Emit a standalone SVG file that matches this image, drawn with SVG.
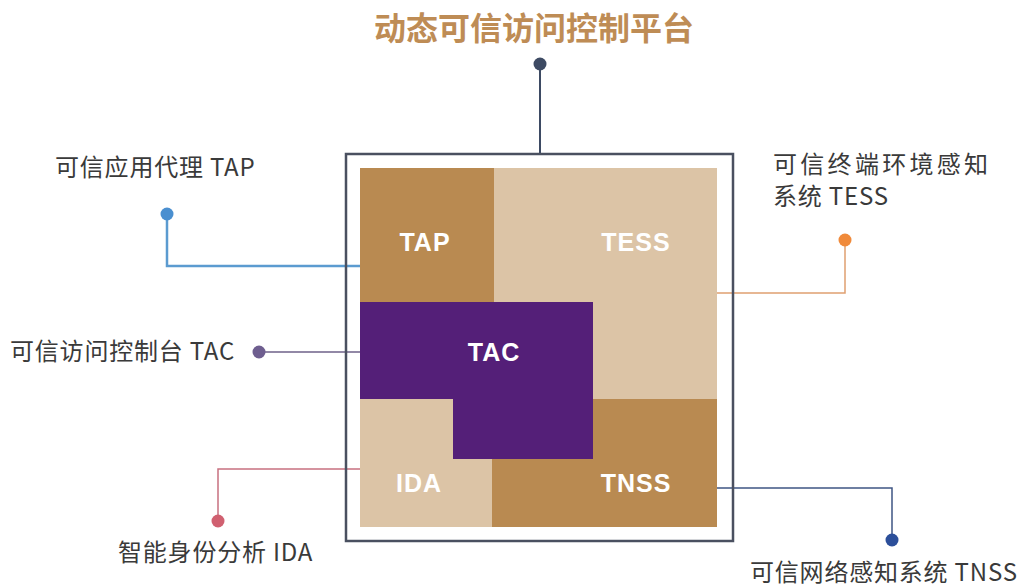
<svg xmlns="http://www.w3.org/2000/svg" width="1019" height="587" viewBox="0 0 1019 587">
<style>
.lbl{font-family:"Noto Sans CJK SC","Liberation Sans",sans-serif;font-size:24px;fill:#3a3a3a;letter-spacing:0.8px;}
.box{font-family:"Liberation Sans","Noto Sans CJK SC",sans-serif;font-size:25px;font-weight:bold;fill:#fff;text-anchor:middle;letter-spacing:1px;}
.dk{fill:#B98A51;}
.lt{fill:#DCC4A6;}
.pu{fill:#541F78;}
.c{fill:none;}
</style>
<rect width="1019" height="587" fill="#fff"/>
<text x="534" y="40" text-anchor="middle" style="font-family:'Noto Sans CJK SC',sans-serif;font-size:32px;font-weight:bold;fill:#BE8C55">动态可信访问控制平台</text>
<g id="connectors">
<path class="c" d="M540 64V154" stroke="#3D4A63" stroke-width="2"/>
<path class="c" d="M167 214V266H360" stroke="#5B9BD0" stroke-width="2.5"/>
<path class="c" d="M259 352H360" stroke="#6E6088" stroke-width="1.5"/>
<path class="c" d="M845 240V293H717" stroke="#E0A070" stroke-width="1.5"/>
<path class="c" d="M218 521V469H360" stroke="#C87080" stroke-width="1.5"/>
<path class="c" d="M717 488H892V540" stroke="#3F5584" stroke-width="1.5"/>
<circle cx="540" cy="64" r="6.5" fill="#3D4A63"/>
<circle cx="167" cy="214" r="6.5" fill="#4A8FD0"/>
<circle cx="259" cy="352" r="6.5" fill="#6E5E8F"/>
<circle cx="845" cy="240" r="6.5" fill="#F08A3A"/>
<circle cx="218" cy="521" r="6.5" fill="#D06070"/>
<circle cx="892" cy="540" r="6.5" fill="#2C4F9A"/>
</g>
<g id="frame"><rect x="346" y="154" width="387" height="387" fill="none" stroke="#4A5060" stroke-width="2.5"/></g>
<g id="TESS"><rect class="lt" x="494" y="168" width="223" height="231"/><text class="box" x="636" y="251">TESS</text></g>
<g id="TAP"><rect class="dk" x="360" y="168" width="134" height="134"/><text class="box" x="425" y="251">TAP</text></g>
<g id="IDA"><rect class="lt" x="360" y="399" width="132" height="128"/><text class="box" x="419" y="492">IDA</text></g>
<g id="TNSS"><rect class="dk" x="492" y="399" width="225" height="128"/><text class="box" x="636" y="492">TNSS</text></g>
<g id="TAC"><path class="pu" d="M360 302H593V459H453V399H360Z"/><text class="box" x="494" y="361">TAC</text></g>
<g id="labels">
<text class="lbl" x="55" y="176">可信应用代理 TAP</text>
<text class="lbl" x="10" y="360">可信访问控制台 TAC</text>
<text class="lbl" x="773" y="173" style="letter-spacing:3.3px">可信终端环境感知</text>
<text class="lbl" x="773" y="205">系统 TESS</text>
<text class="lbl" x="118" y="561">智能身份分析 IDA</text>
<text class="lbl" x="750" y="581">可信网络感知系统 TNSS</text>
</g>
</svg>
